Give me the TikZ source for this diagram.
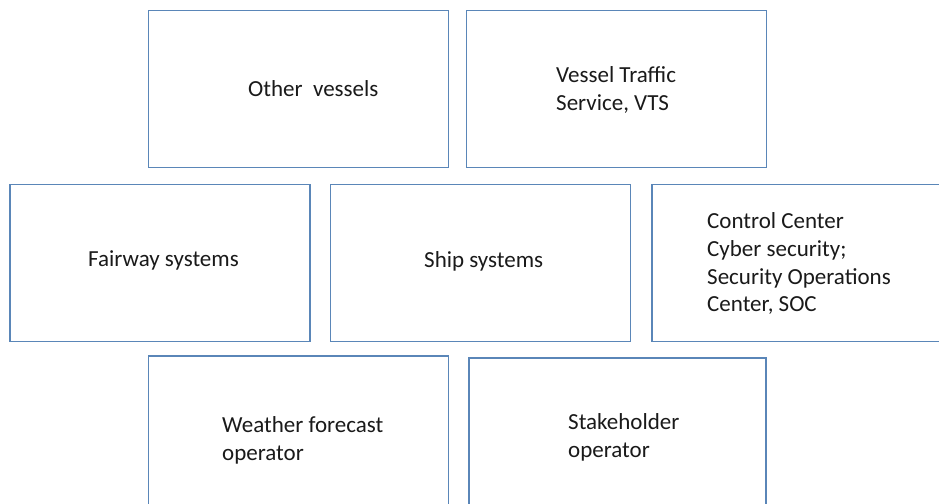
\documentclass[tikz,border=0pt]{standalone}
\usepackage{fontspec}
\setmainfont{Carlito}
\definecolor{boxblue}{HTML}{5A86B8}
\definecolor{txt}{HTML}{1A1A1A}
\begin{document}
\begin{tikzpicture}[x=1pt,y=-1pt,
  card/.style={draw=boxblue,line width=1.6pt,fill=white,inner sep=0pt,outer sep=0pt,anchor=north west},
  lbl/.style={inner sep=0pt,anchor=base west,align=left,text=txt,
    font=\fontsize{23}{27.6}\selectfont}]
\useasboundingbox (0,0) rectangle (939,503);
\clip (0,0) rectangle (939,503);
\fill[white] (0,0) rectangle (939,503);
% boxes
\node[card,minimum width=300pt,minimum height=157pt] (ov) at (148.5,10.5) {};
\node[card,minimum width=300pt,minimum height=157pt] (vts) at (466.5,10.5) {};
\node[card,minimum width=300pt,minimum height=157pt] (fw) at (10,184.5) {};
\node[card,minimum width=300pt,minimum height=157pt] (ss) at (330.5,184.5) {};
\node[card,minimum width=320pt,minimum height=157pt] (cc) at (652,184.5) {};
\node[card,minimum width=300pt,minimum height=170pt] (wf) at (148.5,356) {};
\node[card,minimum width=297pt,minimum height=170pt] (sh) at (469,358) {};
% labels (base = last line)
\node[lbl] (tov) at (248,96.7) {Other\ \ vessels};
\node[lbl] (tvts) at (556,110) {Vessel Traffic\\Service, VTS};
\node[lbl] (tfw) at (88,266.7) {Fairway systems};
\node[lbl] (tss) at (424,267.3) {Ship systems};
\node[lbl] (tcc) at (707,311.7) {Control Center\\Cyber security;\\Security Operations\\Center, SOC};
\node[lbl] (twf) at (222,460) {Weather forecast\\operator};
\node[lbl] (tsh) at (568,457.3) {Stakeholder\\operator};
\end{tikzpicture}
\end{document}
